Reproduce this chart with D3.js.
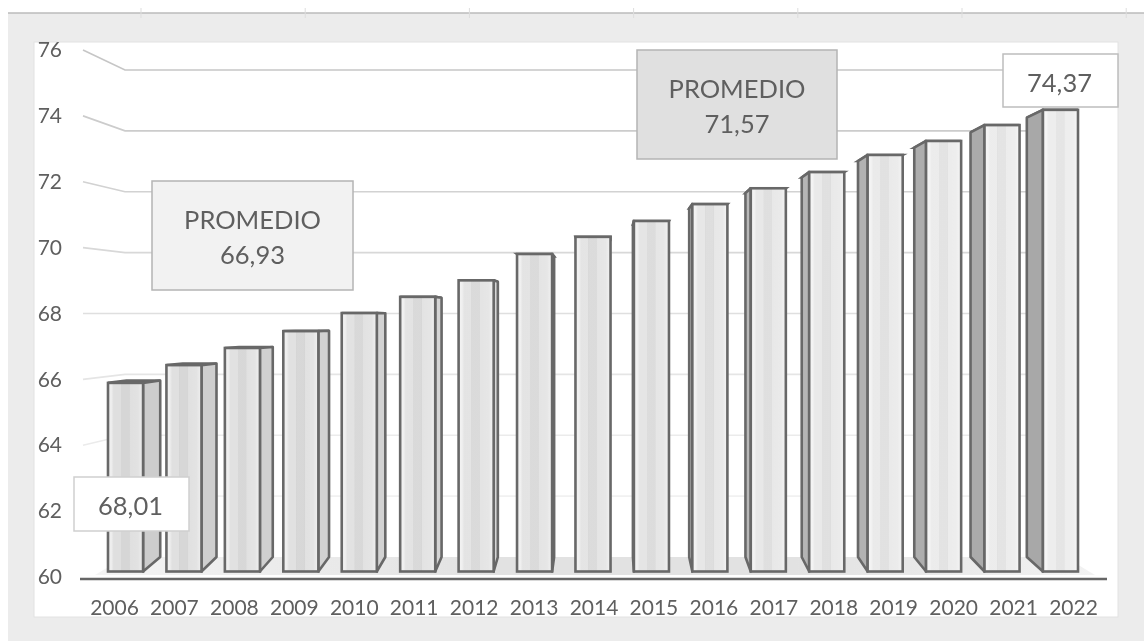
<!DOCTYPE html>
<html>
<head>
<meta charset="utf-8">
<script src="https://cdn.jsdelivr.net/npm/d3@7"></script>
<style>
  html, body { margin: 0; padding: 0; background: #fff; }
  svg { display: block; filter: blur(0.6px); }
  text { font-family: Lato, "Open Sans", sans-serif; fill: #5f5f5f; }
  .axis text { font-size: 21px; }
  .axis path { display: none; }
  .note text { font-size: 25.5px; text-anchor: middle; }
</style>
</head>
<body>
<div id="chart"></div>
<script>
// values
const years = ['2006', '2007', '2008', '2009', '2010', '2011', '2012', '2013', '2014',
    '2015', '2016', '2017', '2018', '2019', '2020', '2021', '2022'];
const barValues = [65.94, 66.5, 67.04, 67.57, 68.14, 68.65, 69.17, 70.0, 70.54,
    71.04, 71.57, 72.07, 72.58, 73.12, 73.56, 74.06, 74.54];
const tickValues = [60, 62, 64, 66, 68, 70, 72, 74, 76];
const gridValues = [62, 64, 66, 68, 70, 72, 74, 76];
const noteLines = [['PROMEDIO', '66,93'], ['PROMEDIO', '71,57'], ['74,37'], ['68,01']];

const width = 1144, height = 643;

// the chart is a 3D column chart, so a back point is a front point pulled to the vanishing point
const vanish = {x: 607, y: 320, depth: 0.963};
const back = (x, y) => [vanish.x + (x - vanish.x) * vanish.depth, vanish.y + (y - vanish.y) * vanish.depth];

const svg = d3.select('#chart').append('svg')
    .attr('width', width)
    .attr('height', height);

// scales: front of the bars, back wall, and the axis labels all sit on different planes
const xBar = d3.scaleBand().domain(years).range([108, 1078]).paddingInner(0.4);
const xLabel = d3.scalePoint().domain(years).range([114, 1073]);
const yBar = d3.scaleLinear().domain([60, 76]).range([571.5, 63.5]);
const yWall = d3.scaleLinear().domain([60, 76]).range([557, 70]);
const yLabel = d3.scaleLinear().domain([60, 76]).range([577, 50]);
const gridColor = d3.scaleLinear().domain([62, 76]).range(['#f1f1f1', '#c6c6c6']);
const frontColor = d3.scaleLinear().domain([0, 8, 16]).range(['#dbdbdb', '#e1e1e1', '#ebebeb']);
const sideColor = d3.scaleLinear().domain([0, 6, 11, 16]).range(['#cdcdcd', '#d6d6d6', '#b8b8b8', '#a8a8a8']);

// page background and chart area
svg.append('rect').attr('x', 8).attr('y', 13).attr('width', width - 8).attr('height', 628).attr('fill', '#ececec');
svg.append('line').attr('x1', 8).attr('x2', width).attr('y1', 13).attr('y2', 13).attr('stroke', '#bbb').attr('stroke-width', 1.5);
svg.selectAll('.ruler').data(d3.range(141, width, 164.2)).join('line')
    .attr('class', 'ruler')
    .attr('x1', d => d).attr('x2', d => d)
    .attr('y1', 8).attr('y2', 18)
    .attr('stroke', '#ddd');
svg.append('rect').attr('x', 34).attr('y', 42).attr('width', 1084).attr('height', 575)
    .attr('fill', '#fff').attr('stroke', '#e2e2e2');

const defs = svg.append('defs');
const floorGrad = defs.append('linearGradient').attr('id', 'floorGrad');
[[0, '#f4f4f4'], [0.4, '#e2e2e2'], [0.7, '#e2e2e2'], [1, '#f2f2f2']].forEach(s => {
    floorGrad.append('stop').attr('offset', s[0]).attr('stop-color', s[1]);
});
// pale edges and a faint darker stripe down the middle of each column
const sheen = defs.append('linearGradient').attr('id', 'sheen');
[[0, '#fff', 0.6], [0.1, '#fff', 0.5], [0.16, '#fff', 0.12], [0.36, '#fff', 0.12], [0.38, '#000', 0.025],
    [0.6, '#000', 0.025], [0.62, '#fff', 0.12], [0.86, '#fff', 0.2], [1, '#fff', 0.6]].forEach(s => {
    sheen.append('stop').attr('offset', s[0]).attr('stop-color', s[1]).attr('stop-opacity', s[2]);
});

// wall gridlines, bent where they run from the side wall to the back wall
const gridLine = d3.line();
svg.append('g').selectAll('path').data(gridValues).join('path')
    .attr('d', d => gridLine([[83, yLabel(d)], [125, yWall(d)], [1078, yWall(d)]]))
    .attr('fill', 'none')
    .attr('stroke', d => gridColor(d))
    .attr('stroke-width', 1.6);

// floor
svg.append('path')
    .attr('d', gridLine([[125, yWall(60)], [1065, yWall(60)], [1095, yLabel(60) - 2], [95, yLabel(60) - 2]]) + 'Z')
    .attr('fill', 'url(#floorGrad)');

// columns
const bars = svg.append('g').selectAll('g').data(years).join('g');

bars.each(function (year, i) {
    const g = d3.select(this);
    const x0 = xBar(year), x1 = x0 + xBar.bandwidth();
    const top = yBar(barValues[i]), base = yBar(60);
    const edge = x1 < vanish.x ? x1 : (x0 > vanish.x ? x0 : null);

    g.append('path')
        .attr('d', gridLine([[x0, top], [x1, top], back(x1, top), back(x0, top)]) + 'Z')
        .attr('fill', '#dedede').attr('stroke', '#686868').attr('stroke-width', 2.6);

    if (edge !== null) {
        g.append('path')
            .attr('d', gridLine([[edge, top], back(edge, top), [back(edge, base)[0], yWall(60)], [edge, base]]) + 'Z')
            .attr('fill', sideColor(i)).attr('stroke', '#686868').attr('stroke-width', 2.6)
            .attr('stroke-linejoin', 'round');
    }

    g.append('rect')
        .attr('x', x0).attr('y', top)
        .attr('width', x1 - x0).attr('height', base - top)
        .attr('fill', frontColor(i));
    g.append('rect')
        .attr('x', x0).attr('y', top)
        .attr('width', x1 - x0).attr('height', base - top)
        .attr('fill', 'url(#sheen)')
        .attr('stroke', '#686868').attr('stroke-width', 2.6);
});

// baseline
svg.append('line')
    .attr('x1', 80).attr('x2', 1107)
    .attr('y1', yLabel(60) + 2).attr('y2', yLabel(60) + 2)
    .attr('stroke', '#666').attr('stroke-width', 2.5);

// axes
svg.append('g').attr('class', 'axis')
    .attr('transform', 'translate(62,0)')
    .call(d3.axisLeft(yLabel).tickValues(tickValues).tickSize(0).tickPadding(0));
svg.append('g').attr('class', 'axis')
    .attr('transform', 'translate(0,598)')
    .call(d3.axisBottom(xLabel).tickSize(0).tickPadding(2));

// annotation boxes
const noteBoxes = [
    {x: 152, y: 181, w: 201, h: 109, fill: '#f2f2f2', stroke: '#b4b4b4'},
    {x: 637, y: 50, w: 200, h: 109, fill: '#e0e0e0', stroke: '#b4b4b4'},
    {x: 1003, y: 54, w: 115, h: 53, fill: '#fff', stroke: '#bdbdbd'},
    {x: 74, y: 477, w: 115, h: 54, fill: '#fff', stroke: '#cfcfcf'}
];
const notes = svg.append('g').selectAll('g').data(noteBoxes).join('g').attr('class', 'note');
notes.append('rect')
    .attr('x', d => d.x).attr('y', d => d.y)
    .attr('width', d => d.w).attr('height', d => d.h)
    .attr('fill', d => d.fill).attr('stroke', d => d.stroke).attr('stroke-width', 1.5);
notes.each(function (d, i) {
    const lines = noteLines[i];
    d3.select(this).selectAll('text').data(lines).join('text')
        .attr('x', d.x + d.w / 2 - (lines.length === 1 ? 1 : 0))
        .attr('y', (t, j) => d.y + d.h / 2 + (j - (lines.length - 1) / 2) * 35 + 11)
        .text(t => t);
});
</script>
</body>
</html>
